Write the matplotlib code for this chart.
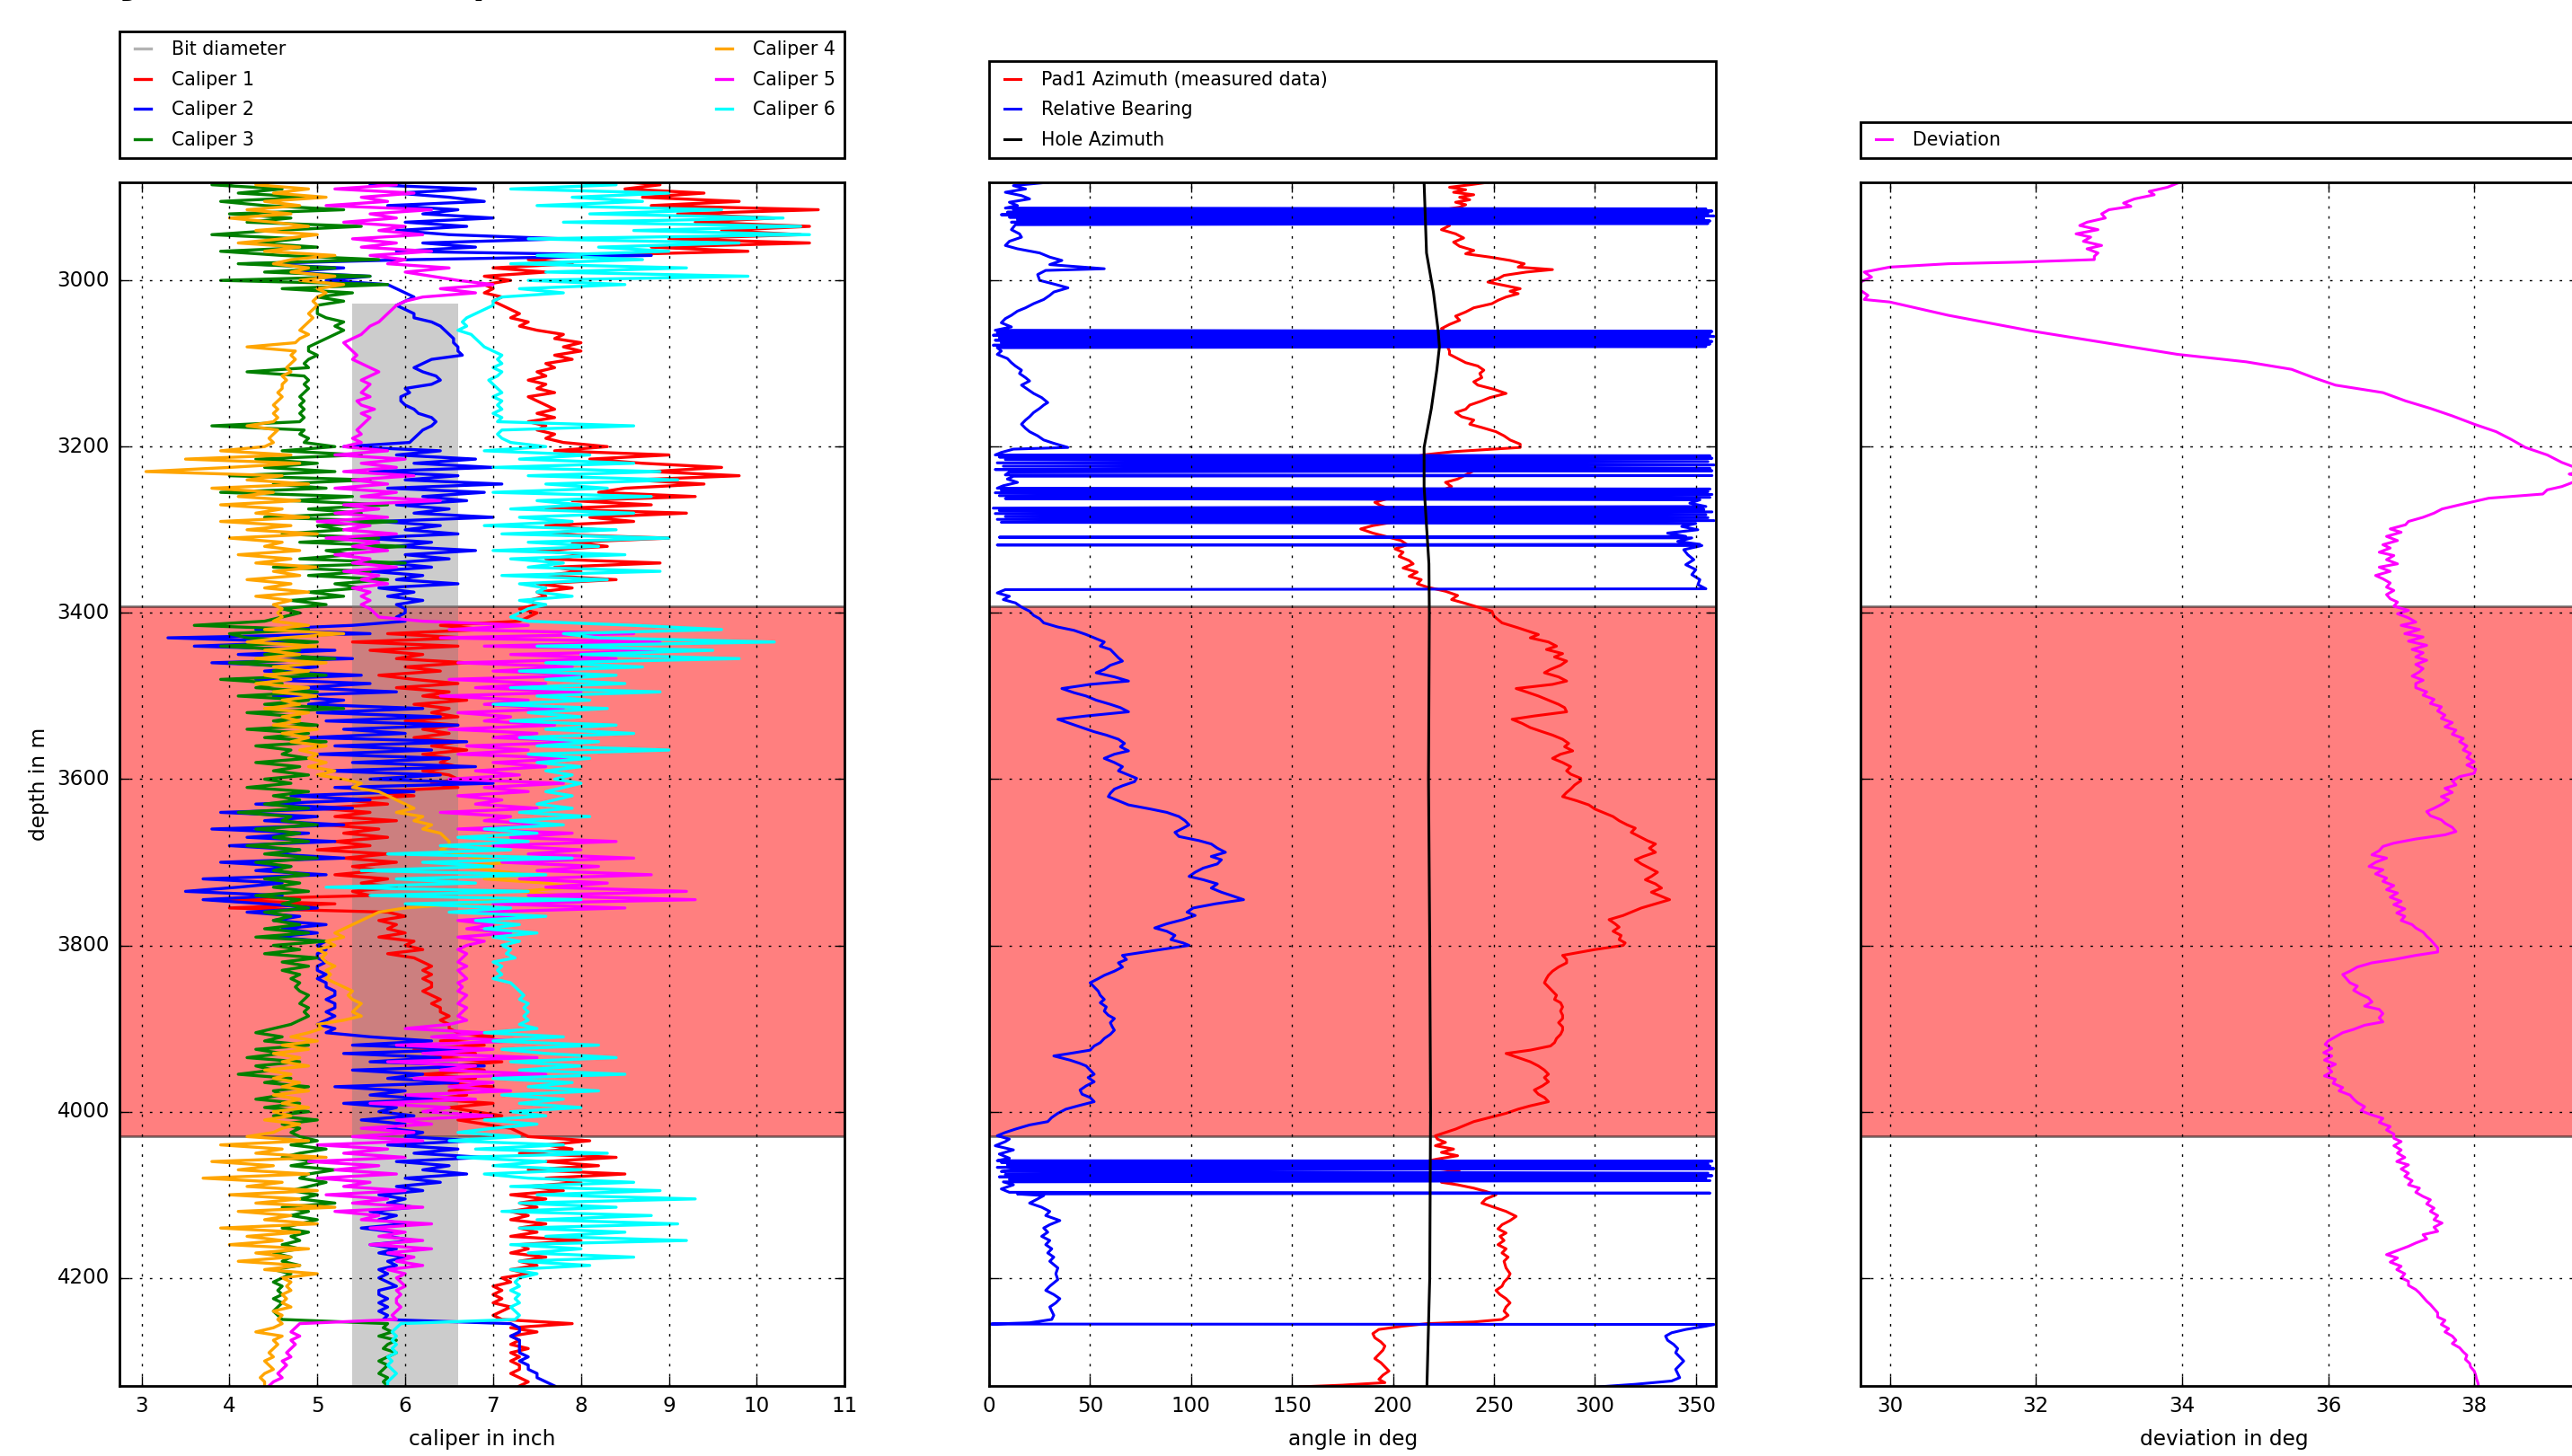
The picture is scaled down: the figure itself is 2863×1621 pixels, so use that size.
import numpy as np
import matplotlib
matplotlib.use('Agg')
import matplotlib.pyplot as plt
from matplotlib.lines import Line2D

plt.style.use('classic')
plt.rcParams['font.family'] = ['DejaVu Sans']
plt.rcParams['xtick.labelsize'] = 8.3
plt.rcParams['ytick.labelsize'] = 8.3
plt.rcParams['axes.labelsize'] = 8.4

# caliper log sampled every 5 m (2880 ... 4330 m)
cal_depth = np.arange(2880, 4331, 5)

caliper1 = [
    8.3, 8.9, 8.5, 9.4, 8.7, 9.8, 8.8, 10.7, 9.1, 10.2,
    9.3, 10.6, 9.6, 10.5, 9.0, 10.6, 8.8, 9.9, 8.0, 7.4,
    7.9, 7.0, 7.6, 6.9, 7.2, 6.9, 7.0, 6.9, 7.1, 7.0,
    7.1, 7.2, 7.3, 7.2, 7.4, 7.3, 7.5, 7.8, 7.7, 8.0,
    7.8, 8.0, 7.7, 7.9, 7.6, 7.7, 7.5, 7.6, 7.4, 7.6,
    7.5, 7.7, 7.4, 7.5, 7.6, 7.7, 7.5, 7.7, 7.4, 7.6,
    7.5, 7.7, 7.6, 7.8, 8.3, 7.7, 9.0, 8.1, 8.7, 9.6,
    8.8, 9.8, 8.6, 9.4, 8.5, 8.2, 9.3, 7.9, 8.8, 7.6,
    9.2, 8.1, 8.6, 7.6, 8.2, 7.5, 9.0, 7.9, 8.3, 7.5,
    8.1, 7.6, 8.9, 7.7, 8.0, 7.6, 8.4, 7.5, 7.9, 7.5,
    7.6, 7.4, 7.5, 7.3, 7.5, 7.4, 7.3, 6.4, 6.9, 5.8,
    6.7, 5.4, 6.6, 5.6, 6.2, 5.9, 6.7, 6.0, 6.4, 5.7,
    6.1, 6.6, 5.9, 6.5, 6.2, 6.7, 6.1, 6.5, 6.3, 6.6,
    6.0, 6.6, 6.2, 6.5, 6.1, 6.6, 6.3, 6.7, 6.2, 6.5,
    6.4, 6.6, 6.2, 6.5, 6.6, 6.3, 6.6, 5.6, 6.1, 5.3,
    5.8, 5.0, 5.6, 5.2, 5.9, 5.1, 5.7, 5.3, 5.8, 5.2,
    5.6, 5.0, 5.8, 5.3, 5.9, 5.4, 5.7, 5.2, 5.8, 5.5,
    5.9, 5.4, 5.6, 3.8, 5.2, 4.0, 5.8, 6.0, 5.7, 5.9,
    5.8, 6.0, 5.7, 6.1, 6.0, 6.2, 5.8, 6.1, 6.2, 6.3,
    6.2, 6.3, 6.2, 6.3, 6.3, 6.2, 6.3, 6.4, 6.3, 6.4,
    6.4, 6.5, 6.4, 6.5, 6.5, 6.6, 7.0, 6.4, 6.9, 6.1,
    6.8, 6.3, 7.1, 6.5, 6.9, 6.2, 6.8, 6.4, 7.0, 6.5,
    6.7, 6.3, 7.0, 6.5, 6.8, 7.1, 6.6, 6.9, 7.2, 7.3,
    7.4, 8.1, 7.6, 7.9, 7.3, 8.4, 7.6, 8.2, 7.4, 8.5,
    7.6, 8.0, 7.4, 7.8, 7.2, 7.6, 7.3, 7.5, 7.2, 7.4,
    7.2, 7.6, 7.3, 7.5, 7.2, 8.0, 7.3, 7.4, 7.2, 7.6,
    7.3, 7.5, 7.2, 7.4, 7.1, 7.2, 7.0, 7.1, 7.0, 7.1,
    7.0, 7.2, 7.1, 7.0, 7.1, 7.9, 7.2, 7.5, 7.2, 7.3,
    7.2, 7.4, 7.2, 7.3, 7.2, 7.3, 7.3, 7.2, 7.3, 7.4,
    7.3]

caliper2 = [
    6.3, 5.6, 6.8, 5.9, 6.5, 6.9, 5.8, 6.6, 6.2, 7.0,
    6.0, 6.7, 5.9, 6.5, 7.8, 6.2, 6.8, 5.9, 8.8, 6.1,
    4.2, 5.3, 4.6, 5.6, 5.1, 5.8, 5.9, 6.0, 6.1, 6.0,
    5.9, 6.0, 6.1, 6.1, 6.3, 6.4, 6.45, 6.5, 6.55, 6.55,
    6.6, 6.6, 6.65, 6.3, 6.2, 6.1, 6.2, 6.35, 6.4, 6.3,
    6.0, 6.05, 5.95, 5.95, 6.0, 6.1, 6.15, 6.3, 6.35, 6.3,
    6.2, 6.15, 6.1, 6.05, 5.3, 6.4, 5.9, 6.8, 6.1, 7.0,
    5.6, 6.6, 6.0, 7.1, 5.8, 6.9, 6.2, 6.7, 5.9, 6.5,
    6.1, 7.0, 5.7, 6.4, 6.0, 6.6, 5.5, 6.3, 5.9, 6.8,
    6.0, 6.5, 5.8, 6.3, 5.6, 6.2, 5.9, 6.6, 5.7, 6.1,
    5.8, 6.2, 5.9, 6.0, 6.0, 5.9, 6.0, 5.4, 4.3, 5.6,
    3.3, 4.9, 3.6, 5.2, 4.1, 5.4, 3.8, 5.0, 4.4, 5.5,
    4.3, 5.6, 4.8, 5.9, 4.5, 5.3, 4.9, 6.2, 5.0, 6.4,
    5.1, 6.6, 5.3, 6.0, 4.9, 6.7, 5.2, 6.3, 5.0, 6.5,
    5.4, 6.8, 5.1, 6.4, 5.6, 7.0, 5.2, 6.1, 4.7, 5.6,
    4.3, 5.4, 3.9, 5.0, 4.4, 5.3, 3.8, 4.9, 4.2, 5.2,
    4.0, 4.8, 4.5, 5.3, 3.9, 4.7, 4.3, 5.1, 3.7, 4.6,
    4.1, 3.5, 4.6, 3.7, 4.4, 5.0, 4.2, 4.8, 4.5, 5.1,
    4.6, 5.0, 4.5, 5.1, 5.0, 5.1, 5.0, 5.0, 5.1, 5.0,
    5.0, 5.1, 5.0, 5.1, 5.1, 5.2, 5.2, 5.1, 5.2, 5.2,
    5.1, 5.2, 5.1, 5.0, 5.2, 5.1, 5.6, 6.3, 5.4, 6.8,
    5.3, 6.4, 5.6, 6.9, 5.4, 6.2, 5.8, 6.6, 5.2, 6.0,
    5.6, 6.3, 5.3, 5.9, 5.7, 6.1, 5.5, 6.0, 5.8, 6.2,
    6.0, 6.8, 5.8, 6.6, 6.1, 6.9, 5.9, 6.5, 6.2, 6.7,
    6.0, 6.4, 5.9, 6.2, 5.7, 6.0, 5.8, 6.1, 5.6, 5.9,
    5.7, 6.0, 5.5, 5.9, 5.8, 6.1, 5.6, 5.9, 5.7, 6.0,
    5.8, 5.9, 5.7, 5.8, 5.7, 5.8, 5.9, 5.7, 5.7, 5.8,
    5.7, 5.8, 5.7, 5.8, 5.75, 7.2, 7.3, 7.3, 7.2, 7.3,
    7.3, 7.3, 7.3, 7.4, 7.3, 7.4, 7.4, 7.5, 7.5, 7.6,
    7.7]

caliper3 = [
    4.3, 3.8, 4.6, 4.1, 4.9, 3.9, 4.4, 5.3, 4.0, 4.7,
    4.2, 5.5, 4.5, 3.8, 4.8, 4.3, 5.0, 3.9, 4.6, 5.7,
    4.1, 5.2, 4.4, 5.6, 3.9, 5.8, 4.6, 5.4, 5.0, 5.3,
    5.0, 5.0, 5.0, 5.1, 5.3, 5.2, 5.3, 5.2, 5.1, 5.0,
    4.9, 4.9, 5.0, 4.9, 4.85, 4.9, 4.2, 4.85, 4.9, 4.85,
    4.9, 4.85, 4.8, 4.85, 4.8, 4.85, 4.8, 4.85, 4.8, 3.8,
    4.85, 4.8, 4.9, 4.85, 5.2, 4.6, 5.5, 4.3, 5.0, 4.4,
    5.2, 4.0, 5.6, 4.5, 5.1, 3.9, 5.4, 4.7, 5.8, 4.9,
    5.5, 4.4, 5.9, 5.0, 5.3, 4.6, 5.7, 4.8, 6.0, 5.1,
    5.4, 4.8, 6.0, 4.5, 5.6, 4.9, 5.8, 5.2, 5.5, 4.9,
    5.3, 4.7, 5.1, 4.6, 4.8, 4.6, 4.4, 3.6, 4.9, 4.0,
    4.2, 5.0, 3.9, 4.8, 4.4, 5.2, 4.0, 4.7, 4.5, 5.1,
    3.9, 4.6, 4.3, 5.0, 4.1, 4.9, 4.4, 5.3, 4.2, 4.8,
    4.5, 5.0, 4.2, 4.9, 4.4, 5.1, 4.3, 4.7, 4.6, 4.9,
    4.3, 4.8, 4.5, 4.9, 4.4, 4.7, 4.2, 4.9, 4.5, 4.8,
    4.4, 4.9, 4.1, 4.7, 4.6, 5.0, 4.3, 4.8, 4.5, 4.9,
    4.2, 4.8, 4.4, 5.0, 4.3, 4.7, 4.5, 4.9, 4.4, 4.8,
    4.5, 4.9, 4.3, 4.8, 4.6, 4.9, 4.4, 4.7, 4.5, 4.8,
    4.4, 4.9, 4.3, 5.1, 4.5, 4.8, 4.4, 5.0, 4.6, 4.9,
    4.6, 4.8, 4.7, 4.8, 4.75, 4.8, 4.9, 4.85, 4.8, 4.9,
    4.85, 4.9, 4.8, 4.7, 4.5, 4.3, 4.6, 4.4, 4.9, 4.3,
    4.6, 4.2, 4.8, 4.3, 4.5, 4.1, 4.7, 4.4, 4.9, 4.5,
    4.6, 4.3, 4.8, 4.4, 4.9, 4.5, 5.0, 4.6, 4.8, 4.7,
    4.8, 5.0, 4.7, 5.1, 4.8, 4.6, 5.0, 4.7, 5.2, 4.9,
    4.8, 5.1, 4.9, 4.7, 5.0, 4.8, 5.2, 4.6, 4.9, 4.7,
    5.0, 4.8, 4.6, 4.9, 4.7, 4.8, 4.6, 4.8, 4.5, 4.7,
    4.6, 4.8, 4.5, 4.7, 4.6, 4.5, 4.6, 4.55, 4.6, 4.5,
    4.6, 4.55, 4.5, 4.55, 4.6, 5.8, 5.75, 5.85, 5.7, 5.9,
    5.8, 5.75, 5.9, 5.8, 5.7, 5.8, 5.75, 5.7, 5.8, 5.75,
    5.8]

caliper4 = [
    4.6, 4.3, 4.9, 4.5, 5.1, 4.4, 4.8, 4.2, 4.7, 4.0,
    4.5, 4.9, 4.3, 5.0, 4.6, 4.1, 4.8, 4.4, 5.2, 4.7,
    4.5, 4.9, 4.7, 5.2, 4.8, 5.3, 5.0, 5.1, 5.0, 4.95,
    5.0, 4.95, 4.9, 4.95, 4.9, 4.85, 4.8, 4.9, 4.8, 4.75,
    4.2, 4.75, 4.7, 4.75, 4.7, 4.65, 4.7, 4.6, 4.65, 4.6,
    4.6, 4.55, 4.6, 4.55, 4.5, 4.55, 4.5, 4.55, 4.5, 4.2,
    4.55, 4.5, 4.45, 4.5, 4.4, 3.9, 4.7, 3.5, 4.8, 4.0,
    3.05, 4.6, 4.2, 4.9, 3.8, 4.5, 4.1, 4.8, 3.9, 4.6,
    4.3, 4.9, 3.9, 4.7, 4.2, 5.0, 4.0, 4.6, 4.4, 4.8,
    4.1, 4.7, 4.3, 5.0, 4.5, 4.8, 4.2, 4.7, 4.4, 4.9,
    4.3, 4.7, 4.5, 4.6, 4.55, 4.6, 4.5, 4.9, 4.4, 5.3,
    4.6, 4.2, 5.0, 4.4, 4.8, 4.3, 5.1, 4.5, 4.9, 4.4,
    4.7, 4.3, 4.9, 4.5, 5.0, 4.6, 4.8, 4.4, 4.9, 4.6,
    4.8, 4.5, 5.0, 4.6, 4.9, 4.7, 5.1, 4.8, 5.0, 4.9,
    5.1, 4.9, 5.2, 5.0, 5.3, 5.5, 5.4, 5.7, 5.8, 5.9,
    6.0, 6.1, 5.9, 6.2, 6.1, 6.3, 6.2, 6.4, 6.45, 6.5,
    6.5, 6.4, 6.6, 6.8, 7.2, 6.6, 7.0, 7.4, 6.9, 7.6,
    7.9, 7.3, 7.8, 7.1, 6.6, 6.0, 5.7, 5.6, 5.5, 5.4,
    5.3, 5.2, 5.3, 5.1, 5.2, 5.0, 5.1, 5.05, 5.1, 5.2,
    5.1, 5.15, 5.1, 5.2, 5.3, 5.4, 5.35, 5.4, 5.5, 5.45,
    5.4, 5.5, 5.3, 5.0, 5.05, 4.9, 4.7, 5.0, 4.6, 4.9,
    4.5, 4.8, 4.6, 4.9, 4.4, 4.7, 4.5, 4.8, 4.6, 4.9,
    4.5, 4.8, 4.6, 4.9, 4.5, 4.7, 4.4, 4.8, 4.6, 4.5,
    4.2, 4.9, 3.9, 4.6, 4.3, 5.1, 3.8, 4.5, 4.1, 4.9,
    3.7, 4.6, 4.2, 5.0, 4.0, 4.8, 4.3, 5.2, 4.1, 4.7,
    4.4, 5.0, 3.9, 4.8, 4.2, 4.6, 4.0, 4.9, 4.3, 4.7,
    4.1, 4.8, 4.4, 5.0, 4.6, 4.7, 4.65, 4.7, 4.6, 4.65,
    4.6, 4.7, 4.5, 4.6, 4.55, 4.6, 4.5, 4.3, 4.6, 4.5,
    4.55, 4.5, 4.45, 4.5, 4.4, 4.45, 4.5, 4.4, 4.35, 4.4,
    4.4]

caliper5 = [
    5.4, 5.9, 5.2, 6.1, 5.5, 5.8, 5.1, 6.3, 5.6, 5.9,
    5.3, 6.0, 5.7, 6.2, 5.4, 5.9, 5.5, 6.3, 5.6, 6.0,
    5.8, 6.5, 6.0, 6.3, 6.6, 7.0, 6.4, 6.8, 6.2, 6.0,
    5.9, 5.85, 5.8, 5.75, 5.7, 5.6, 5.55, 5.5, 5.4, 5.3,
    5.35, 5.4, 5.45, 5.4, 5.5, 5.6, 5.7, 5.6, 5.5, 5.6,
    5.55, 5.5, 5.6, 5.45, 5.5, 5.65, 5.5, 5.6, 5.55, 5.5,
    5.45, 5.5, 5.4, 5.5, 5.3, 5.8, 5.2, 6.0, 5.5, 5.9,
    5.3, 6.1, 5.4, 5.8, 5.2, 5.9, 5.5, 6.4, 5.3, 5.7,
    5.2, 5.8, 5.0, 5.6, 5.3, 5.9, 5.1, 5.7, 5.4, 5.8,
    5.2, 5.6, 5.4, 5.9, 5.3, 5.7, 5.5, 5.8, 5.4, 5.6,
    5.5, 5.6, 5.5, 5.6, 5.65, 5.7, 6.2, 7.4, 6.5, 8.6,
    6.4, 8.9, 6.9, 9.3, 7.2, 8.4, 6.6, 7.9, 7.0, 8.2,
    6.5, 7.6, 6.8, 8.0, 6.4, 7.4, 6.9, 7.8, 6.6, 7.2,
    6.9, 7.7, 6.5, 7.5, 7.0, 8.1, 6.7, 7.4, 6.6, 7.9,
    7.0, 7.6, 6.8, 7.3, 6.5, 7.8, 6.9, 7.4, 6.6, 7.1,
    6.8, 7.5, 6.4, 7.2, 6.9, 7.7, 6.6, 7.9, 7.2, 8.4,
    7.0, 8.0, 7.4, 8.6, 7.1, 8.2, 7.5, 8.8, 7.3, 8.3,
    7.6, 9.2, 7.4, 9.3, 7.0, 8.5, 6.8, 7.3, 6.6, 7.0,
    6.7, 7.2, 6.6, 6.9, 6.7, 6.6, 6.7, 6.65, 6.6, 6.7,
    6.6, 6.65, 6.7, 6.6, 6.65, 6.6, 6.7, 6.65, 6.6, 6.7,
    6.65, 6.6, 6.7, 6.5, 6.0, 6.9, 6.3, 7.3, 5.9, 7.0,
    6.2, 7.5, 5.8, 6.8, 6.4, 7.6, 6.1, 7.0, 6.5, 7.2,
    6.0, 6.8, 5.6, 6.5, 6.2, 7.0, 5.9, 6.3, 5.5, 6.1,
    5.4, 6.2, 5.0, 5.8, 5.3, 6.0, 4.9, 5.7, 5.2, 5.9,
    5.0, 5.6, 5.3, 6.0, 5.1, 5.8, 5.4, 6.2, 5.2, 5.7,
    5.5, 6.3, 5.6, 6.0, 5.7, 6.2, 5.6, 6.3, 5.8, 6.1,
    5.9, 6.2, 5.8, 6.0, 5.9, 5.95, 6.0, 5.9, 5.95, 5.9,
    5.9, 5.95, 5.9, 5.85, 5.9, 4.8, 4.75, 4.7, 4.8, 4.7,
    4.75, 4.7, 4.65, 4.7, 4.6, 4.65, 4.6, 4.55, 4.6, 4.5,
    4.45]

caliper6 = [
    7.6, 8.4, 7.2, 9.0, 7.9, 8.7, 7.5, 9.6, 8.1, 10.3,
    7.8, 10.5, 8.6, 10.6, 7.4, 9.8, 8.2, 9.0, 7.5, 8.7,
    7.2, 9.2, 7.6, 9.9, 7.4, 8.5, 7.3, 7.8, 7.1, 7.0,
    7.0, 6.9, 6.8, 6.7, 6.65, 6.7, 6.6, 6.75, 6.8, 6.85,
    6.9, 7.0, 7.1, 7.05, 7.1, 7.0, 7.1, 7.05, 6.95, 7.0,
    7.05, 7.1, 7.0, 7.1, 7.05, 7.1, 7.0, 7.1, 7.05, 8.6,
    7.1, 7.05, 7.1, 7.2, 7.6, 6.9, 8.1, 7.3, 8.6, 7.0,
    8.9, 7.4, 9.1, 7.6, 8.3, 7.0, 8.8, 7.5, 8.0, 7.2,
    8.6, 7.3, 7.9, 6.9, 8.4, 7.1, 9.0, 7.4, 8.2, 7.0,
    8.5, 7.2, 7.8, 7.4, 8.9, 7.1, 8.3, 7.3, 7.6, 7.5,
    7.9, 7.3, 7.6, 7.4, 7.3, 7.2, 7.4, 8.6, 9.6, 7.8,
    8.2, 10.2, 7.5, 9.5, 8.0, 9.8, 7.6, 8.7, 7.3, 8.4,
    7.6, 8.5, 7.2, 8.9, 7.5, 8.1, 7.0, 8.3, 7.4, 8.0,
    7.2, 8.4, 7.6, 8.6, 7.3, 8.2, 7.5, 9.0, 7.4, 8.1,
    7.5, 8.0, 7.6, 7.9, 7.7, 8.0, 7.8, 7.6, 7.9, 7.7,
    7.5, 7.9, 7.3, 8.1, 7.2, 7.8, 6.9, 7.5, 6.6, 7.4,
    6.4, 7.2, 5.8, 7.9, 6.2, 7.0, 5.5, 7.6, 5.9, 6.8,
    5.1, 7.4, 5.6, 8.0, 6.0, 7.2, 6.5, 7.6, 6.8, 7.3,
    6.9, 7.5, 7.0, 7.3, 7.1, 7.2, 7.15, 7.25, 7.0, 7.1,
    7.05, 7.1, 7.0, 7.2, 7.25, 7.3, 7.35, 7.3, 7.4, 7.35,
    7.4, 7.35, 7.4, 7.3, 7.5, 6.9, 7.8, 7.0, 8.2, 7.1,
    7.6, 8.4, 7.2, 8.0, 7.3, 8.5, 7.0, 7.9, 7.4, 8.2,
    7.1, 7.8, 7.3, 8.0, 7.2, 7.6, 6.9, 7.5, 7.0, 6.6,
    7.3, 6.5, 7.8, 6.8, 8.3, 6.6, 7.6, 7.0, 8.0, 6.9,
    7.4, 8.6, 7.2, 8.9, 7.5, 9.3, 7.3, 8.4, 7.1, 8.8,
    7.5, 9.1, 7.3, 8.5, 7.6, 9.2, 7.2, 8.0, 7.4, 8.6,
    7.3, 8.1, 7.2, 7.5, 7.3, 7.25, 7.3, 7.2, 7.3, 7.25,
    7.3, 7.2, 7.25, 7.3, 7.25, 5.95, 5.9, 5.85, 5.9, 5.85,
    5.9, 5.85, 5.9, 5.8, 5.85, 5.8, 5.85, 5.9, 5.85, 5.8,
    5.8]

# bit diameter band (inch) and its depth range
bit_depth = [3028, 4331]
bit_left = [5.4, 5.4]
bit_right = [6.6, 6.6]

# depth zone highlighted in all tracks
zone_top = 3392
zone_bottom = 4030

# (depth, angle) pairs
pad1_azimuth = [
    (2882, 247), (2885, 238), (2888, 228), (2891, 236), (2894, 230), (2897, 240), (2900, 233),
    (2903, 238), (2906, 231), (2909, 236), (2912, 233), (2915, 225), (2918, 205), (2921, 196),
    (2924, 212), (2927, 218), (2930, 226), (2934, 228), (2939, 224), (2944, 231), (2949, 235),
    (2954, 230), (2959, 233), (2964, 240), (2968, 236), (2972, 248), (2976, 258), (2980, 265),
    (2984, 262), (2987, 279), (2990, 266), (2994, 255), (2998, 252), (3002, 247), (3006, 255),
    (3010, 263), (3013, 258), (3016, 262), (3020, 256), (3024, 252), (3028, 249), (3033, 240),
    (3038, 236), (3043, 231), (3048, 233), (3053, 228), (3058, 224), (3062, 226), (3066, 222),
    (3070, 225), (3075, 226), (3080, 227), (3085, 228), (3089, 228), (3094, 232), (3099, 236),
    (3103, 242), (3108, 245), (3112, 243), (3117, 244), (3122, 240), (3126, 242), (3131, 250),
    (3136, 256), (3141, 248), (3145, 244), (3150, 238), (3155, 236), (3159, 231), (3164, 234),
    (3168, 240), (3173, 238), (3177, 244), (3182, 251), (3187, 255), (3192, 258), (3197, 263),
    (3201, 263), (3206, 230), (3210, 215), (3215, 205), (3220, 212), (3225, 228), (3229, 240),
    (3234, 236), (3239, 232), (3243, 226), (3248, 229), (3253, 224), (3257, 210), (3262, 198),
    (3267, 191), (3271, 194), (3276, 200), (3281, 192), (3285, 196), (3290, 202), (3295, 190),
    (3299, 184), (3304, 190), (3309, 198), (3313, 204), (3318, 207), (3323, 201), (3327, 205),
    (3332, 203), (3337, 208), (3341, 210), (3346, 205), (3351, 212), (3356, 208), (3360, 214),
    (3365, 212), (3369, 217), (3374, 226), (3379, 232), (3384, 229), (3388, 235), (3393, 242),
    (3398, 249), (3404, 250), (3412, 254), (3418, 262), (3426, 272), (3430, 268), (3435, 277),
    (3440, 281), (3444, 276), (3449, 284), (3453, 280), (3458, 286), (3463, 283), (3468, 278),
    (3472, 275), (3477, 282), (3482, 286), (3486, 279), (3491, 261), (3495, 266), (3500, 272),
    (3505, 277), (3510, 282), (3514, 285), (3519, 286), (3524, 270), (3528, 259), (3533, 264),
    (3538, 268), (3543, 274), (3547, 279), (3552, 284), (3557, 287), (3561, 285), (3566, 289),
    (3570, 283), (3575, 279), (3580, 284), (3585, 288), (3590, 286), (3594, 288), (3599, 293),
    (3602, 293), (3607, 290), (3612, 288), (3616, 286), (3621, 284), (3626, 291), (3631, 297),
    (3636, 300), (3640, 304), (3645, 309), (3650, 312), (3655, 316), (3659, 320), (3664, 318),
    (3669, 322), (3674, 326), (3678, 330), (3683, 327), (3688, 330), (3693, 324), (3697, 320),
    (3702, 323), (3707, 327), (3712, 331), (3717, 328), (3721, 325), (3726, 330), (3731, 333),
    (3736, 328), (3740, 332), (3745, 337), (3750, 330), (3755, 323), (3760, 318), (3764, 314),
    (3769, 307), (3774, 310), (3778, 312), (3783, 309), (3788, 313), (3793, 312), (3797, 315),
    (3800, 314), (3805, 300), (3812, 284), (3817, 286), (3821, 286), (3826, 282), (3831, 279),
    (3836, 277), (3840, 276), (3845, 275), (3850, 277), (3855, 279), (3860, 281), (3865, 280),
    (3869, 283), (3874, 284), (3879, 283), (3884, 284), (3888, 284), (3893, 282), (3898, 284),
    (3902, 284), (3907, 283), (3912, 281), (3917, 280), (3921, 278), (3926, 268), (3930, 256),
    (3935, 262), (3940, 268), (3945, 272), (3950, 275), (3955, 277), (3959, 275), (3964, 277),
    (3969, 274), (3974, 270), (3979, 272), (3983, 275), (3988, 277), (3993, 268), (3997, 262),
    (4002, 256), (4007, 248), (4012, 240), (4016, 236), (4021, 231), (4025, 226), (4029, 221),
    (4033, 222), (4037, 226), (4041, 221), (4045, 230), (4049, 224), (4053, 232), (4057, 222),
    (4061, 214), (4064, 228), (4067, 218), (4070, 233), (4073, 225), (4076, 212), (4079, 230),
    (4082, 235), (4085, 224), (4088, 232), (4092, 240), (4096, 246), (4100, 251), (4105, 246),
    (4110, 244), (4115, 250), (4120, 256), (4126, 261), (4131, 258), (4136, 254), (4141, 252),
    (4146, 256), (4150, 253), (4155, 255), (4160, 252), (4165, 256), (4170, 254), (4175, 257),
    (4180, 255), (4188, 256), (4195, 258), (4200, 257), (4205, 255), (4210, 254), (4215, 251),
    (4220, 253), (4225, 256), (4230, 258), (4235, 256), (4240, 255), (4245, 257), (4250, 254),
    (4253, 240), (4255, 217), (4258, 205), (4262, 193), (4267, 190), (4272, 191), (4277, 194),
    (4282, 196), (4287, 195), (4292, 193), (4297, 191), (4302, 194), (4307, 196), (4312, 198),
    (4317, 195), (4322, 193), (4326, 196), (4329, 175), (4331, 154)]

relative_bearing = [
    (2882, 29), (2886, 12), (2890, 18), (2894, 8), (2898, 16), (2902, 20), (2906, 10), (2910, 14),
    (2913, 8), (2914, 355), (2915, 12), (2916.5, 358), (2918, 9), (2919.5, 356), (2921, 6),
    (2922.5, 359), (2924, 10), (2925.5, 354), (2927, 14), (2928.5, 357), (2930, 11), (2931.5, 356),
    (2933, 13), (2939, 11), (2944, 15), (2948, 16), (2953, 10), (2958, 8), (2962, 14), (2967, 25),
    (2972, 30), (2976, 36), (2981, 30), (2986, 57), (2988, 28), (2993, 24), (3000, 25), (3005, 33),
    (3009, 39), (3014, 32), (3018, 30), (3023, 27), (3028, 22), (3033, 18), (3037, 14), (3042, 11),
    (3046, 8), (3051, 6), (3056, 11), (3060, 3), (3061.5, 358), (3063, 4), (3064.5, 357), (3066, 2),
    (3067.5, 359), (3069, 5), (3070.5, 356), (3072, 3), (3073.5, 358), (3075, 6), (3076.5, 357),
    (3078, 2), (3079.5, 355), (3081, 4), (3085, 6), (3089, 4), (3094, 9), (3099, 11), (3103, 13),
    (3108, 16), (3112, 15), (3117, 18), (3121, 20), (3126, 16), (3131, 19), (3136, 22), (3141, 26),
    (3147, 29), (3150, 27), (3154, 25), (3159, 22), (3164, 20), (3168, 18), (3173, 16), (3178, 18),
    (3182, 20), (3187, 24), (3192, 27), (3196, 32), (3201, 39), (3203, 12), (3207, 6), (3210, 3),
    (3211, 357), (3212.5, 5), (3214, 358), (3215.5, 8), (3218, 356), (3219.5, 4), (3222, 359),
    (3223.5, 7), (3226, 357), (3227.5, 3), (3229, 358), (3230.5, 10), (3234, 8), (3234.8, 358),
    (3235.6, 12), (3239, 9), (3243, 14), (3247, 7), (3250, 4), (3251, 357), (3252.5, 6),
    (3254, 356), (3255.5, 3), (3257.5, 358), (3259, 5), (3261, 357), (3262.5, 8), (3264, 352),
    (3268, 347), (3272, 355), (3274, 2), (3275.5, 354), (3277, 5), (3278.5, 358), (3280.5, 3),
    (3282, 355), (3284, 8), (3285.5, 356), (3287.5, 4), (3289, 359), (3291, 6), (3292.5, 350),
    (3296, 343), (3300, 351), (3304, 336), (3308, 345), (3309, 5), (3309.8, 348), (3314, 341),
    (3317.5, 352), (3318.3, 4), (3319, 353), (3324, 344), (3330, 346), (3336, 349), (3342, 345),
    (3348, 350), (3354, 348), (3360, 352), (3366, 351), (3371, 355), (3372, 8), (3376, 4),
    (3380, 10), (3384, 7), (3388, 13), (3393, 16), (3398, 20), (3403, 22), (3407, 25), (3412, 27),
    (3417, 34), (3421, 42), (3426, 48), (3430, 52), (3435, 57), (3440, 55), (3444, 60), (3449, 62),
    (3454, 64), (3458, 66), (3463, 60), (3468, 57), (3472, 53), (3477, 62), (3482, 69), (3486, 50),
    (3491, 36), (3496, 42), (3500, 48), (3505, 53), (3510, 60), (3514, 65), (3519, 69), (3524, 48),
    (3528, 34), (3533, 40), (3538, 46), (3543, 52), (3547, 58), (3552, 64), (3557, 67), (3561, 65),
    (3566, 69), (3570, 62), (3575, 57), (3580, 62), (3585, 66), (3590, 64), (3594, 68), (3599, 73),
    (3603, 72), (3608, 66), (3612, 62), (3617, 60), (3621, 59), (3626, 64), (3631, 69), (3636, 80),
    (3640, 88), (3645, 94), (3650, 97), (3655, 99), (3659, 96), (3664, 92), (3669, 94), (3674, 104),
    (3678, 110), (3683, 113), (3688, 117), (3693, 110), (3697, 115), (3702, 113), (3707, 106),
    (3712, 102), (3717, 99), (3721, 106), (3726, 113), (3731, 110), (3736, 115), (3740, 120),
    (3745, 126), (3750, 112), (3755, 101), (3760, 98), (3764, 102), (3769, 96), (3774, 88),
    (3779, 82), (3783, 88), (3788, 92), (3793, 90), (3797, 96), (3800, 99), (3805, 85), (3812, 66),
    (3817, 68), (3821, 64), (3826, 66), (3831, 62), (3836, 57), (3840, 54), (3845, 50), (3850, 52),
    (3855, 54), (3860, 55), (3865, 57), (3869, 55), (3874, 58), (3879, 57), (3884, 59), (3888, 62),
    (3893, 60), (3898, 61), (3902, 62), (3907, 60), (3912, 57), (3917, 55), (3921, 52), (3926, 50),
    (3930, 40), (3933, 32), (3938, 40), (3942, 45), (3945, 48), (3950, 50), (3955, 52), (3959, 49),
    (3964, 52), (3969, 48), (3974, 45), (3979, 46), (3983, 50), (3988, 52), (3993, 44), (3997, 38),
    (4002, 34), (4007, 31), (4012, 29), (4016, 20), (4021, 13), (4025, 8), (4029, 4), (4033, 10),
    (4036, 8), (4041, 3), (4046, 12), (4051, 5), (4056, 10), (4059, 4), (4059.5, 358), (4061, 6),
    (4062.5, 356), (4064, 9), (4065.5, 357), (4067, 4), (4068.5, 359), (4070, 12), (4072, 6),
    (4074, 356), (4075.5, 8), (4077, 358), (4078.5, 5), (4080, 355), (4081.5, 10), (4083, 357),
    (4084.5, 7), (4088, 12), (4093, 6), (4097, 10), (4098, 357), (4099, 14), (4101, 27), (4105, 24),
    (4110, 20), (4115, 26), (4120, 30), (4125, 28), (4131, 35), (4136, 30), (4140, 27), (4145, 29),
    (4150, 26), (4155, 30), (4160, 28), (4165, 31), (4170, 29), (4175, 32), (4180, 30), (4188, 34),
    (4195, 33), (4202, 34), (4210, 30), (4215, 28), (4220, 32), (4225, 35), (4230, 33), (4235, 30),
    (4240, 31), (4245, 32), (4250, 31), (4254, 20), (4255.5, 1), (4256, 359), (4258, 355),
    (4262, 345), (4266, 338), (4270, 335), (4275, 336), (4280, 339), (4285, 341), (4290, 340),
    (4295, 342), (4300, 344), (4305, 342), (4310, 340), (4315, 341), (4320, 342), (4324, 338),
    (4328, 320), (4331, 302)]

hole_azimuth = [
    (2882, 215.4), (2967, 216.6), (3014, 220.0), (3061, 222.4), (3080, 223.0), (3108, 221.7),
    (3154, 219.0), (3201, 215.4), (3248, 215.4), (3295, 216.6), (3341, 217.8), (3400, 218.0),
    (3600, 217.6), (3800, 218.2), (4000, 218.6), (4200, 218.2), (4331, 216.8)]

deviation = [
    (2883, 33.94), (2888, 33.8), (2893, 33.55), (2897, 33.62), (2902, 33.35), (2907, 33.2),
    (2911, 33.3), (2915, 33.0), (2920, 32.9), (2925, 32.95), (2930, 32.7), (2934, 32.6),
    (2939, 32.85), (2944, 32.55), (2948, 32.75), (2953, 32.65), (2958, 32.9), (2962, 32.7),
    (2967, 32.85), (2971, 32.8), (2975, 32.8), (2978, 31.8), (2980, 30.8), (2984, 30.0),
    (2990, 29.65), (2996, 29.75), (3001, 29.62), (3006, 29.58), (3012, 29.6), (3018, 29.7),
    (3023, 29.65), (3026, 30.0), (3032, 30.3), (3042, 30.8), (3061, 31.95), (3080, 33.3),
    (3089, 33.94), (3098, 34.88), (3107, 35.5), (3117, 35.8), (3126, 36.1), (3135, 36.75),
    (3145, 37.06), (3154, 37.4), (3163, 37.7), (3173, 38.0), (3182, 38.3), (3191, 38.5),
    (3201, 38.7), (3210, 39.0), (3219, 39.2), (3224, 39.35), (3229, 39.5), (3233, 39.3),
    (3238, 39.55), (3243, 39.35), (3248, 39.2), (3252, 39.0), (3257, 38.94), (3262, 38.2),
    (3266, 38.0), (3270, 37.8), (3275, 37.56), (3280, 37.45), (3285, 37.3), (3290, 37.1),
    (3294, 37.06), (3299, 36.85), (3303, 37.0), (3308, 36.8), (3313, 36.95), (3318, 36.75),
    (3322, 36.85), (3327, 36.7), (3331, 36.9), (3336, 36.8), (3341, 36.95), (3345, 36.7),
    (3350, 36.85), (3355, 36.65), (3359, 36.75), (3364, 36.85), (3369, 36.8), (3373, 36.9),
    (3378, 36.8), (3383, 36.85), (3387, 36.95), (3392, 36.9), (3397, 37.1), (3401, 36.95),
    (3406, 37.1), (3411, 37.2), (3415, 37.0), (3420, 37.25), (3425, 37.05), (3429, 37.3),
    (3434, 37.1), (3439, 37.35), (3444, 37.15), (3448, 37.3), (3453, 37.2), (3457, 37.35),
    (3462, 37.2), (3467, 37.3), (3471, 37.25), (3476, 37.15), (3481, 37.3), (3485, 37.2),
    (3490, 37.2), (3495, 37.35), (3499, 37.3), (3504, 37.45), (3509, 37.4), (3513, 37.55),
    (3518, 37.5), (3523, 37.6), (3527, 37.55), (3532, 37.7), (3537, 37.6), (3541, 37.75),
    (3546, 37.7), (3551, 37.85), (3555, 37.8), (3560, 37.9), (3565, 37.85), (3569, 37.95),
    (3574, 37.9), (3579, 38.0), (3583, 37.9), (3588, 38.02), (3593, 38.0), (3597, 37.8),
    (3602, 37.7), (3607, 37.75), (3611, 37.6), (3616, 37.7), (3621, 37.55), (3625, 37.65),
    (3630, 37.56), (3635, 37.45), (3639, 37.35), (3644, 37.4), (3649, 37.55), (3653, 37.6),
    (3658, 37.7), (3663, 37.75), (3667, 37.6), (3672, 37.2), (3677, 36.9), (3681, 36.75),
    (3686, 36.7), (3691, 36.6), (3695, 36.8), (3700, 36.65), (3705, 36.56), (3709, 36.75),
    (3714, 36.65), (3719, 36.8), (3723, 36.75), (3728, 36.9), (3733, 36.8), (3737, 36.95),
    (3742, 36.85), (3747, 37.0), (3751, 36.9), (3756, 37.05), (3761, 36.94), (3765, 37.05),
    (3770, 37.0), (3775, 37.15), (3779, 37.2), (3784, 37.3), (3789, 37.35), (3793, 37.4),
    (3798, 37.45), (3803, 37.5), (3808, 37.5), (3812, 37.2), (3817, 36.9), (3821, 36.6),
    (3826, 36.4), (3831, 36.3), (3835, 36.2), (3840, 36.25), (3845, 36.3), (3849, 36.4),
    (3854, 36.35), (3859, 36.45), (3863, 36.55), (3868, 36.6), (3873, 36.5), (3877, 36.7),
    (3882, 36.75), (3887, 36.7), (3892, 36.75), (3896, 36.5), (3901, 36.35), (3905, 36.2),
    (3910, 36.1), (3915, 36.0), (3919, 35.96), (3924, 36.05), (3929, 35.94), (3933, 36.05),
    (3938, 35.95), (3943, 36.1), (3947, 36.0), (3952, 36.05), (3957, 35.95), (3961, 36.1),
    (3966, 36.07), (3971, 36.2), (3975, 36.15), (3980, 36.3), (3985, 36.35), (3989, 36.4),
    (3994, 36.5), (3999, 36.45), (4004, 36.6), (4008, 36.75), (4013, 36.7), (4018, 36.85),
    (4022, 36.8), (4027, 36.9), (4032, 36.9), (4036, 37.0), (4041, 36.9), (4046, 37.0),
    (4050, 36.95), (4055, 37.05), (4060, 36.94), (4064, 37.1), (4069, 37.0), (4074, 37.1),
    (4078, 37.05), (4083, 37.15), (4088, 37.1), (4092, 37.25), (4097, 37.2), (4102, 37.3),
    (4106, 37.4), (4111, 37.35), (4116, 37.45), (4120, 37.4), (4125, 37.5), (4130, 37.45),
    (4134, 37.56), (4139, 37.45), (4144, 37.5), (4148, 37.3), (4153, 37.35), (4158, 37.2),
    (4162, 37.1), (4167, 36.95), (4172, 36.8), (4176, 36.95), (4181, 36.85), (4186, 37.0),
    (4190, 36.94), (4195, 37.05), (4200, 37.0), (4204, 37.1), (4209, 37.1), (4214, 37.2),
    (4218, 37.25), (4223, 37.3), (4228, 37.35), (4232, 37.4), (4237, 37.45), (4242, 37.5),
    (4247, 37.5), (4251, 37.6), (4256, 37.55), (4261, 37.65), (4265, 37.6), (4270, 37.7),
    (4275, 37.75), (4279, 37.7), (4284, 37.8), (4289, 37.85), (4293, 37.9), (4298, 37.88),
    (4303, 37.94), (4307, 37.95), (4312, 38.0), (4317, 38.02), (4321, 38.03), (4326, 38.05),
    (4331, 38.06)]

caliper_names = ['Caliper 1', 'Caliper 2', 'Caliper 3', 'Caliper 4', 'Caliper 5', 'Caliper 6']
caliper_colors = ['red', 'blue', 'green', 'orange', 'magenta', 'cyan']
depth_ticks = [3000, 3200, 3400, 3600, 3800, 4000, 4200]

leg_kw = dict(bbox_to_anchor=(0., 1.02, 1., .102), loc=3, mode='expand', borderaxespad=0.,
              fontsize=7.4, handlelength=1.5, labelspacing=0.66, borderpad=0.5)

fig = plt.figure(figsize=(14.315, 8.105), dpi=200, facecolor='white')
ax1 = fig.add_axes([0.0465, 0.0481, 0.2819, 0.8267])
ax2 = fig.add_axes([0.3846, 0.0481, 0.2826, 0.8267], sharey=ax1)
ax3 = fig.add_axes([0.7234, 0.0481, 0.2826, 0.8267], sharey=ax1)

fig.text(-0.0122, 1.0095, 'Analysis of caliper and azimuth data', fontsize=27,
         ha='left', va='baseline')

# track 1: calipers
ax1.axhspan(zone_top, zone_bottom, facecolor='red', alpha=0.5)
ax1.fill_betweenx(bit_depth, bit_left, bit_right, color='gray', alpha=0.4, lw=0)
handles = [Line2D([], [], color='0.7', lw=1.2)]
for vals, name, col in zip([caliper1, caliper2, caliper3, caliper4, caliper5, caliper6],
                           caliper_names, caliper_colors):
    l, = ax1.plot(vals, cal_depth, color=col, lw=1.2)
    handles.append(l)
ax1.set_xlim(2.75, 11)
ax1.set_xticks(range(3, 12))
ax1.set_ylim(4330, 2882)
ax1.set_yticks(depth_ticks)
ax1.grid(True)
ax1.set_xlabel('caliper in inch')
ax1.set_ylabel('depth in m', labelpad=3)
ax1.legend(handles, ['Bit diameter'] + caliper_names, ncol=2, **leg_kw)

# track 2: angles
pad = np.array(pad1_azimuth)
rb = np.array(relative_bearing)
ha = np.array(hole_azimuth)
ax2.axhspan(zone_top, zone_bottom, facecolor='red', alpha=0.5)
ax2.plot(pad[:, 1], pad[:, 0], color='red', lw=1.1, label='Pad1 Azimuth (measured data)')
ax2.plot(rb[:, 1], rb[:, 0], color='blue', lw=1.1, label='Relative Bearing')
ax2.plot(ha[:, 1], ha[:, 0], color='black', lw=1.1, label='Hole Azimuth')
ax2.set_xlim(0, 360)
ax2.set_xticks(range(0, 351, 50))
ax2.grid(True)
ax2.set_xlabel('angle in deg')
ax2.tick_params(labelleft=False)
ax2.legend(ncol=1, **leg_kw)

# track 3: deviation
dev = np.array(deviation)
ax3.axhspan(zone_top, zone_bottom, facecolor='red', alpha=0.5)
ax3.plot(dev[:, 1], dev[:, 0], color='magenta', lw=1.1, label='Deviation')
ax3.set_xlim(29.6, 39.55)
ax3.set_xticks([30, 32, 34, 36, 38])
ax3.grid(True)
ax3.set_xlabel('deviation in deg')
ax3.tick_params(labelleft=False)
ax3.legend(ncol=1, **leg_kw)

ax1.set_ylim(4330, 2882)
fig.savefig('out.png', dpi=200, facecolor='white')
